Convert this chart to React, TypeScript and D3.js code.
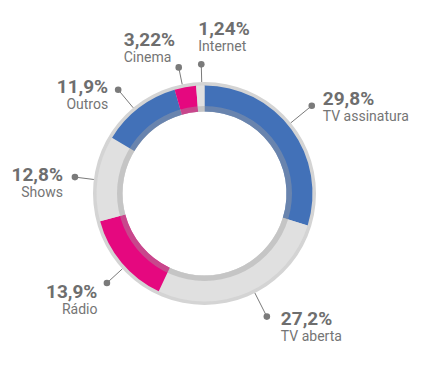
import React from "react";
import * as d3 from "d3";

const categories = ["TV assinatura", "TV aberta", "Rádio", "Shows", "Outros", "Cinema", "Internet"];
const values = [29.8, 27.2, 13.9, 12.8, 11.9, 3.22, 1.24];
const valueLabels = ["29,8%", "27,2%", "13,9%", "12,8%", "11,9%", "3,22%", "1,24%"];
const colors = ["#4271b8", "#e0e0e0", "#e5087f", "#e0e0e0", "#4271b8", "#e5087f", "#e0e0e0"];

// label layout: angle nudge (deg), dot radius, text offset, anchor
const labelLayout = [
  { nudge: -2.9, r: 138.6, dx: 11, dy: -1, anchor: "start" },
  { nudge: -3.0, r: 138, dx: 14, dy: 8.3, anchor: "start" },
  { nudge: -2.6, r: 132.4, dx: -9.5, dy: 14.6, anchor: "end" },
  { nudge: -0.9, r: 130.6, dx: -12, dy: 4, anchor: "end" },
  { nudge: -2.3, r: 135, dx: -10, dy: 3.7, anchor: "end" },
  { nudge: -1.3, r: 128.7, dx: -55, dy: -21.3, anchor: "start" },
  { nudge: 0.8, r: 129.2, dx: -3, dy: -29.3, anchor: "start" },
];

const W = 423;
const H = 384;
const cx = 204.5;
const cy = 193.5;
const rOuter = 111.5;
const rSeg = 108;
const rInner = 82;
const bandW = 5.5;
const textColor = "#6e6e6e";
const nameColor = "#757575";

export default function App() {
  const pie = d3.pie<number>().sort(null).value((d) => d).startAngle(0).endAngle(2 * Math.PI);
  const arcs = pie(values);
  const segArc = d3.arc<d3.PieArcDatum<number>>().innerRadius(rInner).outerRadius(rSeg);
  const bgArc = d3.arc()({ innerRadius: rInner, outerRadius: rOuter, startAngle: 0, endAngle: 2 * Math.PI } as any) as string;
  const bandArc = d3.arc()({ innerRadius: rInner, outerRadius: rInner + bandW, startAngle: 0, endAngle: 2 * Math.PI } as any) as string;

  return (
    <svg width={W} height={H} style={{ position: "absolute", left: 0, top: 0, fontFamily: "Roboto, sans-serif" }}>
      <rect width={W} height={H} fill="#ffffff" />
      <g transform={`translate(${cx},${cy})`}>
        <path d={bgArc} fill="#d4d4d4" />
        {arcs.map((a, i) => (
          <path key={i} d={segArc(a) as string} fill={colors[i]} />
        ))}
        <path d={bandArc} fill="#a0a0a0" fillOpacity={0.42} />
        {arcs.map((a, i) => {
          const L = labelLayout[i];
          const ang = (a.startAngle + a.endAngle) / 2 + (L.nudge * Math.PI) / 180;
          const sx = Math.sin(ang);
          const sy = -Math.cos(ang);
          const x0 = sx * rOuter;
          const y0 = sy * rOuter;
          const x1 = sx * L.r;
          const y1 = sy * L.r;
          return (
            <g key={"l" + i}>
              <line x1={x0} y1={y0} x2={x1} y2={y1} stroke="#7a7a7a" strokeWidth={1} />
              <circle cx={x1} cy={y1} r={3.3} fill="#7a7a7a" />
              <text x={x1 + L.dx} y={y1 + L.dy} textAnchor={L.anchor as any} fontSize={19} fontWeight="bold" fill={textColor}>
                {valueLabels[i]}
              </text>
              <text x={x1 + L.dx} y={y1 + L.dy + 16} textAnchor={L.anchor as any} fontSize={14} fill={nameColor}>
                {categories[i]}
              </text>
            </g>
          );
        })}
      </g>
    </svg>
  );
}
